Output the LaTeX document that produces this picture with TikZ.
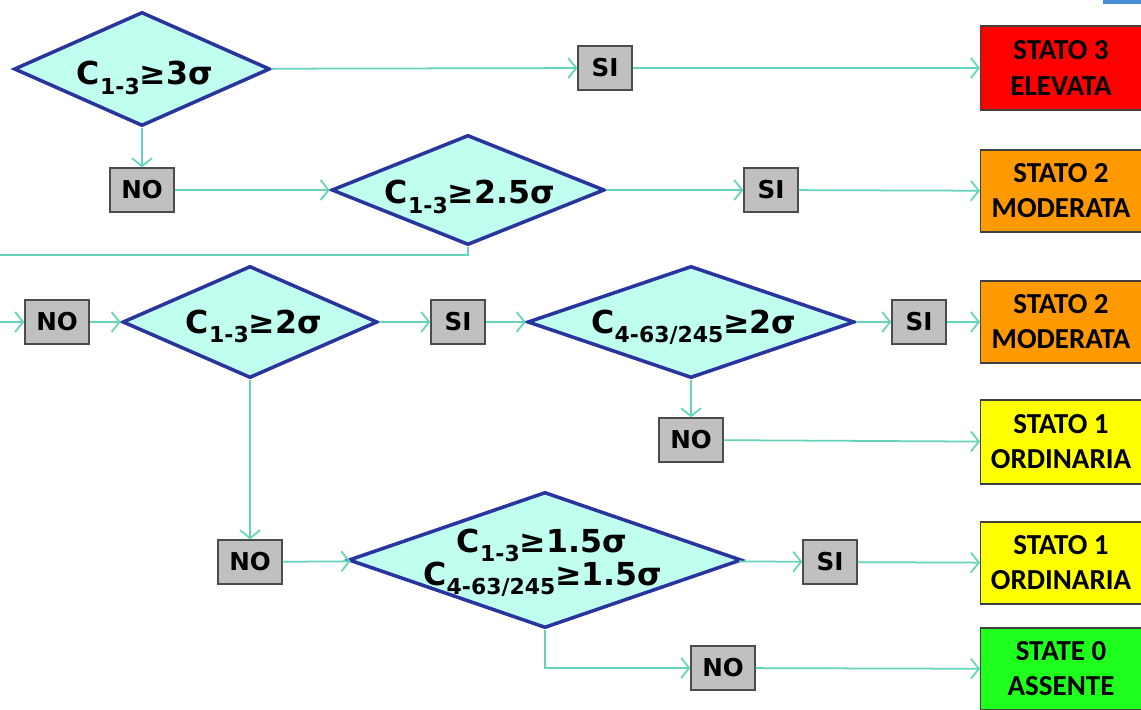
\documentclass[tikz,border=0pt]{standalone}
\usepackage{fontspec}
\setmainfont{DejaVu Sans}
\newfontfamily\statofont{Carlito}
\usetikzlibrary{shapes.geometric,arrows.meta}

\definecolor{flow}{RGB}{100,212,186}
\definecolor{diafill}{RGB}{192,255,240}
\definecolor{diaedge}{RGB}{42,52,158}
\definecolor{boxgray}{RGB}{192,192,192}
\definecolor{stred}{RGB}{255,0,0}
\definecolor{storange}{RGB}{255,153,0}
\definecolor{styellow}{RGB}{255,255,0}
\definecolor{stgreen}{RGB}{30,255,30}
\definecolor{tabblue}{RGB}{70,140,215}

% one drawing unit = one pixel of the layout
\def\pxu{0.02cm}
\newcommand\subidx[1]{\raisebox{-0.3em}{\fontsize{12.5}{12.5}\selectfont #1}}

\begin{document}
\begin{tikzpicture}[x=0.02cm, y=-0.02cm,
  dia/.style={diamond, draw=diaedge, line width=2pt, fill=diafill, inner sep=0pt},
  dtext/.style={font=\bfseries\fontsize{18}{18}\selectfont, inner sep=0pt, anchor=base},
  ans/.style={draw=black!70, line width=0.8pt, fill=boxgray, inner sep=0pt,
    font=\bfseries\fontsize{14}{14}\selectfont, minimum height=44*\pxu},
  nobox/.style={ans, minimum width=64*\pxu},
  sibox/.style={ans, minimum width=54*\pxu},
  stato/.style={draw=black!75, line width=0.6pt, inner sep=0pt, align=center,
    minimum width=161*\pxu, minimum height=82*\pxu,
    font=\statofont\bfseries\fontsize{16.5}{20}\selectfont},
  flowline/.style={draw=flow, line width=1pt},
  flowarrow/.style={flowline, -{Straight Barb[length=1.6mm,width=4mm]}}
]
\useasboundingbox (0,0) rectangle (1141,709);
\fill[white] (0,0) rectangle (1141,709);
\fill[tabblue] (1103,0) rectangle (1141,4);

% decision diamonds
\node[dia, minimum width=256*\pxu, minimum height=114*\pxu] (d1) at (142,69) {};
\node[dia, minimum width=273*\pxu, minimum height=110*\pxu] (d2) at (468,190) {};
\node[dia, minimum width=255*\pxu, minimum height=112*\pxu] (d3) at (250,322) {};
\node[dia, minimum width=327*\pxu, minimum height=112*\pxu] (d4) at (691,322) {};
\node[dia, minimum width=393*\pxu, minimum height=136*\pxu] (d5) at (545,560) {};

\node[dtext] (d1t) at (145,85) {C\subidx{1-3}≥3σ};
\node[dtext] (d2t) at (470,204) {C\subidx{1-3}≥2.5σ};
\node[dtext] (d3t) at (254,333) {C\subidx{1-3}≥2σ};
\node[dtext] (d4t) at (694,333) {C\subidx{4-63/245}≥2σ};
\node[dtext] (d5a) at (542,552) {C\subidx{1-3}≥1.5σ};
\node[dtext] (d5b) at (543,585) {C\subidx{4-63/245}≥1.5σ};

% answer boxes
\node[sibox] (si1) at (605,68) {SI};
\node[nobox] (no1) at (142,190) {NO};
\node[sibox] (si2) at (771,190) {SI};
\node[nobox] (no3) at (57,322) {NO};
\node[sibox] (si3) at (458,322) {SI};
\node[sibox] (si4) at (919,322) {SI};
\node[nobox] (no4) at (691,440) {NO};
\node[nobox] (no5) at (250,562) {NO};
\node[sibox] (si5) at (830,562) {SI};
\node[nobox] (no6) at (723,668) {NO};

% outcome states
\node[stato, fill=stred, minimum height=84*\pxu] (st3) at (1061,68) {STATO 3\\ELEVATA};
\node[stato, fill=storange] (st2a) at (1061,191) {STATO 2\\MODERATA};
\node[stato, fill=storange] (st2b) at (1061,322) {STATO 2\\MODERATA};
\node[stato, fill=styellow, minimum height=84*\pxu] (st1a) at (1061,442) {STATO 1\\ORDINARIA};
\node[stato, fill=styellow] (st1b) at (1061,563) {STATO 1\\ORDINARIA};
\node[stato, fill=stgreen] (st0) at (1061,669) {STATE 0\\ASSENTE};

% connectors
\draw[flowarrow] (d1) -- (si1);
\draw[flowarrow] (si1) -- (st3);
\draw[flowarrow] (d1) -- (no1);
\draw[flowarrow] (no1) -- (d2);
\draw[flowarrow] (d2) -- (si2);
\draw[flowarrow] (si2) -- (st2a);

\coordinate (edgeA) at (0,255);
\coordinate (edgeB) at (0,322);
\draw[flowline] (d2.south) |- (edgeA);
\draw[flowarrow] (edgeB) -- (no3);

\draw[flowarrow] (no3) -- (d3);
\draw[flowarrow] (d3) -- (si3);
\draw[flowarrow] (si3) -- (d4);
\draw[flowarrow] (d4) -- (si4);
\draw[flowarrow] (si4) -- (st2b);
\draw[flowarrow] (d4) -- (no4);
\draw[flowarrow] (no4) -- (st1a);

\draw[flowarrow] (d3) -- (no5);
\draw[flowarrow] (no5) -- (d5);
\draw[flowarrow] (d5) -- (si5);
\draw[flowarrow] (si5) -- (st1b);
\draw[flowarrow] (d5.south) |- (no6);
\draw[flowarrow] (no6) -- (st0);
\end{tikzpicture}
\end{document}
